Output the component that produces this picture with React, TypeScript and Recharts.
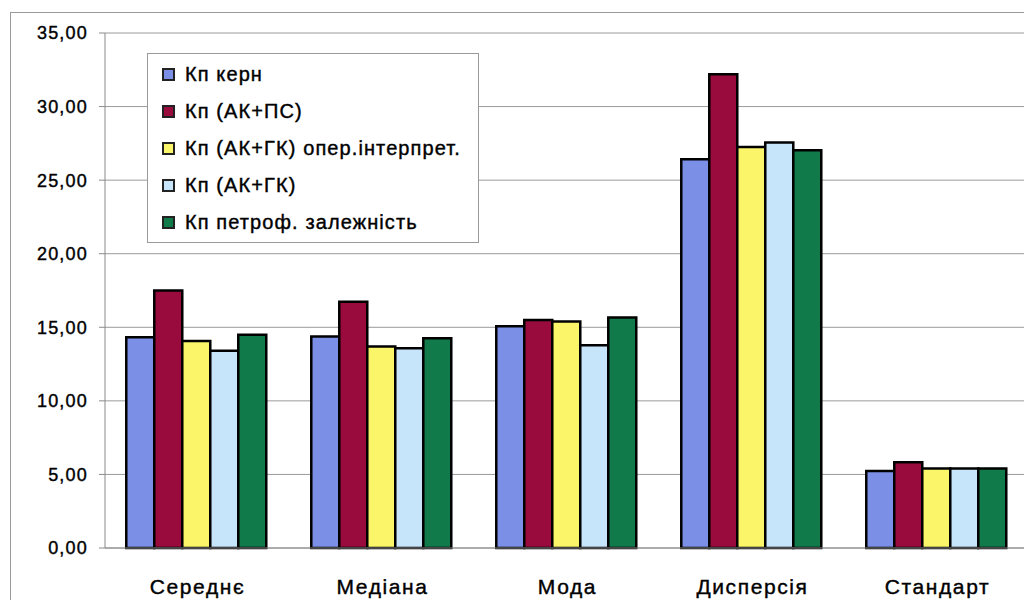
import React from 'react';
import { BarChart, Bar, XAxis, YAxis, CartesianGrid } from 'recharts';

const categories = ['Середнє', 'Медіана', 'Мода', 'Дисперсія', 'Стандарт'];
const kernValues = [14.32, 14.37, 15.07, 26.42, 5.24];
const akPsValues = [17.5, 16.73, 15.5, 32.2, 5.83];
const akGkOperValues = [14.07, 13.69, 15.39, 27.26, 5.4];
const akGkValues = [13.41, 13.57, 13.78, 27.56, 5.4];
const petrofValues = [14.5, 14.25, 15.66, 27.03, 5.4];
const yTicks = [0, 5, 10, 15, 20, 25, 30, 35];

const seriesNames = [
  'Кп керн',
  'Кп (АК+ПС)',
  'Кп (АК+ГК) опер.інтерпрет.',
  'Кп (АК+ГК)',
  'Кп петроф. залежність',
];
const seriesKeys = ['kern', 'akps', 'akgkoper', 'akgk', 'petrof'];
const seriesColors = ['#7b8fe6', '#990a3d', '#fbf56a', '#c6e5fa', '#117a4a'];

const data = categories.map((c, i) => ({
  name: c,
  kern: kernValues[i],
  akps: akPsValues[i],
  akgkoper: akGkOperValues[i],
  akgk: akGkValues[i],
  petrof: petrofValues[i],
}));

const fmt = (v: number) => v.toFixed(2).replace('.', ',');

const font = 'Arial, "Liberation Sans", sans-serif';

export default function App() {
  return (
    <div style={{ position: 'absolute', left: 0, top: 0, width: 1024, height: 600, overflow: 'hidden', background: '#fff' }}>
      <div style={{ position: 'absolute', left: 10, top: 12, width: 1100, height: 700, border: '1px solid #9a9a9a' }} />
      <div style={{ position: 'absolute', left: 0, top: 0 }}>
        <BarChart
          width={1040}
          height={600}
          data={data}
          margin={{ top: 33, right: 10, bottom: 0, left: 10 }}
          barCategoryGap="11.5%"
          barGap={0}
        >
          <CartesianGrid horizontal vertical={false} stroke="#9a9a9a" />
          <YAxis
            width={95}
            domain={[0, 35]}
            ticks={yTicks}
            tickFormatter={fmt}
            interval={0}
            tickSize={6}
            tickMargin={11}
            axisLine={{ stroke: '#8a8a8a' }}
            tickLine={{ stroke: '#8a8a8a' }}
            tick={{ fill: '#000', stroke: '#000', strokeWidth: 0.4, fontSize: 18, fontFamily: font, letterSpacing: 1.2 }}
          />
          <XAxis
            dataKey="name"
            height={52}
            tickLine={false}
            tickMargin={25}
            axisLine={{ stroke: '#8a8a8a' }}
            tick={{ fill: '#000', stroke: '#000', strokeWidth: 0.4, fontSize: 21, fontFamily: font, letterSpacing: 1.6 }}
          />
          {seriesKeys.map((k, i) => (
            <Bar
              key={k}
              dataKey={k}
              name={seriesNames[i]}
              fill={seriesColors[i]}
              stroke="#000"
              strokeWidth={2.5}
              isAnimationActive={false}
            />
          ))}
        </BarChart>
      </div>
      <div
        style={{
          position: 'absolute',
          left: 147,
          top: 53,
          width: 330,
          height: 188,
          border: '1px solid #9a9a9a',
          background: '#fff',
          fontFamily: font,
        }}
      >
        {seriesNames.map((n, i) => (
          <div
            key={n}
            style={{
              position: 'absolute',
              left: 14,
              top: 7 + i * 37,
              height: 26,
              display: 'flex',
              alignItems: 'center',
              whiteSpace: 'nowrap',
            }}
          >
            <span
              style={{
                display: 'inline-block',
                width: 9,
                height: 9,
                background: seriesColors[i],
                border: '2px solid #222',
                marginRight: 10,
              }}
            />
            <span style={{ fontSize: 20, color: '#000', letterSpacing: 1.1, WebkitTextStroke: '0.4px #000' }}>{n}</span>
          </div>
        ))}
      </div>
    </div>
  );
}
